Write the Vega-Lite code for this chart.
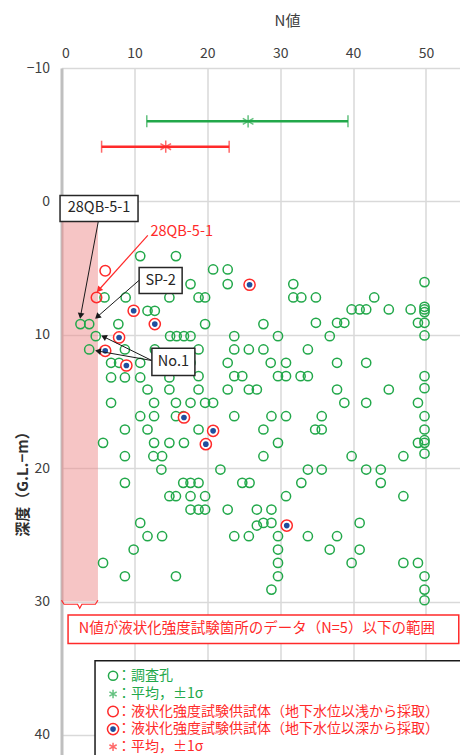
{
 "$schema": "https://vega.github.io/schema/vega-lite/v6.json",
 "width": 398, "height": 687,
 "autosize": "none",
 "padding": {"left": 61.5, "top": 68, "right": 0, "bottom": 0},
 "background": "white",
 "config": {"view": {"stroke": null}, "font": "Noto Sans CJK JP"},
 "datasets": {
  "g": [
   {"x":10.8,"y":4.1},{"x":15.7,"y":4.1},
   {"x":20.8,"y":5.1},{"x":22.8,"y":5.1},
   {"x":17.7,"y":6.2},{"x":22.8,"y":6.2},{"x":31.8,"y":6.2},{"x":49.8,"y":6.05},
   {"x":5.9,"y":7.2},{"x":8.8,"y":7.2},{"x":14.8,"y":7.2},{"x":18.8,"y":7.2},{"x":19.7,"y":7.2},{"x":31.8,"y":7.2},{"x":32.9,"y":7.2},{"x":34.9,"y":7.2},{"x":42.9,"y":7.2},
   {"x":11.8,"y":8.2},{"x":12.8,"y":8.2},{"x":39.8,"y":8.1},{"x":40.9,"y":8.1},{"x":41.8,"y":8.1},{"x":44.9,"y":8.1},{"x":47.9,"y":8.1},{"x":49.8,"y":7.9},{"x":49.8,"y":8.1},{"x":49.8,"y":8.3},
   {"x":2.6,"y":9.2},{"x":3.8,"y":9.2},{"x":7.8,"y":9.2},{"x":19.7,"y":9.2},{"x":27.7,"y":9.2},{"x":34.9,"y":9.1},{"x":37.8,"y":9.1},{"x":38.8,"y":9.1},{"x":48.9,"y":9.1},{"x":49.8,"y":9.1},
   {"x":4.7,"y":10.1},{"x":14.9,"y":10.1},{"x":15.8,"y":10.1},{"x":16.8,"y":10.1},{"x":17.7,"y":10.1},{"x":23.7,"y":10.1},{"x":29.7,"y":10.1},{"x":36.8,"y":10.1},{"x":49.8,"y":10.05},
   {"x":3.8,"y":11.1},{"x":8.7,"y":11.1},{"x":12.8,"y":11.1},{"x":18.8,"y":11.1},{"x":23.7,"y":11.1},{"x":25.7,"y":11.1},{"x":27.7,"y":11.1},{"x":33.8,"y":11.1},
   {"x":6.8,"y":12.1},{"x":7.9,"y":12.1},{"x":10.8,"y":12.1},{"x":13.8,"y":12.1},{"x":17.7,"y":12.1},{"x":22.8,"y":12.1},{"x":28.7,"y":12.1},{"x":30.8,"y":12.1},{"x":37.8,"y":12.1},{"x":41.8,"y":12.1},
   {"x":6.8,"y":13.2},{"x":8.7,"y":13.2},{"x":10.8,"y":13.2},{"x":14.8,"y":13.2},{"x":18.8,"y":13.1},{"x":23.7,"y":13.1},{"x":24.8,"y":13.1},{"x":29.7,"y":13.1},{"x":30.8,"y":13.1},{"x":32.8,"y":13.1},{"x":33.8,"y":13.1},{"x":49.8,"y":13.1},
   {"x":11.8,"y":14.1},{"x":14.8,"y":14.1},{"x":18.8,"y":14.1},{"x":22.8,"y":14.1},{"x":25.7,"y":14.1},{"x":26.8,"y":14.1},{"x":37.8,"y":14.1},{"x":44.9,"y":14.1},{"x":49.8,"y":14.0},
   {"x":6.8,"y":15.1},{"x":12.7,"y":15.1},{"x":15.7,"y":15.1},{"x":17.7,"y":15.1},{"x":19.7,"y":15.1},{"x":20.8,"y":15.1},{"x":38.8,"y":15.1},{"x":41.8,"y":15.1},{"x":48.9,"y":15.1},
   {"x":10.8,"y":16.1},{"x":12.7,"y":16.1},{"x":15.7,"y":16.1},{"x":16.7,"y":16.1},{"x":23.7,"y":16.1},{"x":28.8,"y":16.1},{"x":30.8,"y":16.1},{"x":35.7,"y":16.1},{"x":49.8,"y":16.1},
   {"x":8.7,"y":17.1},{"x":11.8,"y":17.1},{"x":18.8,"y":17.1},{"x":27.7,"y":17.1},{"x":34.8,"y":17.1},{"x":35.7,"y":17.1},{"x":49.8,"y":17.1},
   {"x":5.7,"y":18.1},{"x":12.7,"y":18.1},{"x":14.8,"y":18.1},{"x":16.8,"y":18.1},{"x":29.7,"y":18.1},{"x":48.9,"y":18.1},{"x":49.8,"y":17.9},{"x":49.8,"y":18.1},
   {"x":8.7,"y":19.1},{"x":12.6,"y":19.1},{"x":13.8,"y":19.1},{"x":27.7,"y":19.1},{"x":39.8,"y":19.1},{"x":46.9,"y":19.1},{"x":49.8,"y":18.9},
   {"x":13.7,"y":20.1},{"x":21.8,"y":20.1},{"x":33.8,"y":20.1},{"x":35.7,"y":20.1},{"x":41.8,"y":20.1},{"x":43.8,"y":20.1},
   {"x":8.7,"y":21.1},{"x":16.7,"y":21.1},{"x":17.7,"y":21.1},{"x":18.8,"y":21.1},{"x":24.8,"y":21.1},{"x":25.8,"y":21.1},{"x":32.9,"y":21.1},{"x":43.8,"y":21.1},
   {"x":14.8,"y":22.1},{"x":15.7,"y":22.1},{"x":17.7,"y":22.1},{"x":19.7,"y":22.1},{"x":30.8,"y":22.1},{"x":46.9,"y":22.1},
   {"x":17.7,"y":23.1},{"x":18.8,"y":23.1},{"x":19.7,"y":23.1},{"x":22.8,"y":23.1},{"x":26.8,"y":23.1},{"x":28.8,"y":23.1},
   {"x":10.8,"y":24.1},{"x":26.8,"y":24.3},{"x":27.7,"y":24.1},{"x":28.8,"y":24.1},{"x":40.9,"y":24.1},
   {"x":11.8,"y":25.1},{"x":13.8,"y":25.1},{"x":23.7,"y":25.1},{"x":25.7,"y":25.1},{"x":29.7,"y":25.1},{"x":33.8,"y":25.1},{"x":37.8,"y":25.1},
   {"x":9.9,"y":26.1},{"x":29.7,"y":26.1},{"x":36.8,"y":26.1},{"x":40.9,"y":26.1},
   {"x":5.7,"y":27.1},{"x":29.7,"y":27.1},{"x":39.8,"y":27.1},{"x":46.9,"y":27.1},{"x":48.9,"y":27.1},
   {"x":8.7,"y":28.1},{"x":15.7,"y":28.1},{"x":29.7,"y":28.1},{"x":49.8,"y":28.1},
   {"x":28.8,"y":29.1},{"x":49.8,"y":29.1},{"x":49.8,"y":29.9}
  ],
  "r": [{"x":6.0,"y":5.2},{"x":4.8,"y":7.2}],
  "b": [{"x":25.8,"y":6.25},{"x":9.9,"y":8.2},{"x":12.8,"y":9.2},{"x":7.9,"y":10.2},{"x":6.0,"y":11.2},{"x":8.9,"y":12.3},{"x":16.8,"y":16.2},{"x":20.8,"y":17.2},{"x":19.8,"y":18.2},{"x":30.9,"y":24.3}],
  "ebG": [{"x":11.7,"x2":39.3,"y":-6.0,"m":25.6}],
  "ebR": [{"x":5.5,"x2":23.0,"y":-4.1,"m":14.3}],
  "arrowsK": [
   {"x":5.05,"y":1.5,"x2":2.62,"y2":8.58},
   {"x":10.78,"y":5.85,"x2":4.91,"y2":8.65},
   {"x":12.4,"y":11.93,"x2":5.8,"y2":10.15},
   {"x":12.4,"y":11.93,"x2":5.01,"y2":11.22}
  ],
  "boxes": [
   {"x":-0.2,"x2":10.5,"y":-0.45,"y2":1.5,"cx":5.15,"cy":0.53,"label":"28QB-5-1"},
   {"x":10.65,"x2":16.55,"y":4.95,"y2":6.9,"cx":13.6,"cy":5.93,"label":"SP-2"},
   {"x":12.4,"x2":18.3,"y":11.0,"y2":13.05,"cx":15.35,"cy":12.03,"label":"No.1"}
  ]
 },
 "encoding": {
  "x": {"field":"x","type":"quantitative","scale":{"domain":[0,54.6],"nice":false,"zero":false},
   "axis":{"orient":"top","title":"N値","values":[0,10,20,30,40,50],"grid":true,"gridColor":"#d9d9d9","gridWidth":1.5,"domain":false,"ticks":false,"labelFontSize":14,"labelColor":"#404040","labelPadding":8,"labelFont":"Noto Sans CJK JP","titleFont":"Noto Sans CJK JP","titleFontSize":15,"titleFontWeight":"normal","titleColor":"#404040","titleX":225.5,"titleY":-48,"titleBaseline":"middle","titleAlign":"center"}},
  "y": {"field":"y","type":"quantitative","scale":{"domain":[-10,41.5],"nice":false,"zero":false,"reverse":true},
   "axis":{"title":"深度（G.L.−m）","values":[-10,0,10,20,30,40],"grid":true,"gridColor":"#d9d9d9","gridWidth":1.5,"domain":true,"domainColor":"#bfbfbf","domainWidth":3,"ticks":false,"labelFontSize":14,"labelColor":"#404040","labelPadding":12,"labelFont":"Noto Sans CJK JP","titleFont":"Noto Sans CJK JP","titleFontSize":15,"titleFontWeight":"bold","titleColor":"#303030","titleX":-39,"titleY":412,"titleAngle":270,"titleBaseline":"middle","titleAlign":"center"}}
 },
 "layer": [
  {"data":{"values":[{"x":0,"x2":5,"y":0,"y2":30}]},"mark":{"type":"rect","fill":"#ee8c8c","opacity":0.5},
   "encoding":{"x2":{"field":"x2"},"y2":{"field":"y2"}}},
  {"data":{"values":[{"x":0,"y":29.9,"o":1},{"x":0.35,"y":30.2,"o":2},{"x":2.2,"y":30.2,"o":3},{"x":2.5,"y":30.5,"o":4},{"x":2.8,"y":30.2,"o":5},{"x":4.65,"y":30.2,"o":6},{"x":5,"y":29.9,"o":7}]},
   "mark":{"type":"line","stroke":"#ff2a2a","strokeWidth":1.2},"encoding":{"order":{"field":"o"}}},
  {"data":{"name":"ebG"},"mark":{"type":"rule","stroke":"#22a84a","strokeWidth":2.5},"encoding":{"x2":{"field":"x2"}}},
  {"data":{"name":"ebR"},"mark":{"type":"rule","stroke":"#ff2a2a","strokeWidth":2.5},"encoding":{"x2":{"field":"x2"}}},
  {"data":{"name":"ebG"},"mark":{"type":"point","shape":"M0,-1L0,1","stroke":"#22a84a","strokeWidth":1.5,"size":144}},
  {"data":{"name":"ebG"},"mark":{"type":"point","shape":"M0,-1L0,1","stroke":"#22a84a","strokeWidth":1.5,"size":144},"encoding":{"x":{"field":"x2","type":"quantitative"}}},
  {"data":{"name":"ebR"},"mark":{"type":"point","shape":"M0,-1L0,1","stroke":"#ff2a2a","strokeWidth":1.5,"size":144}},
  {"data":{"name":"ebR"},"mark":{"type":"point","shape":"M0,-1L0,1","stroke":"#ff2a2a","strokeWidth":1.5,"size":144},"encoding":{"x":{"field":"x2","type":"quantitative"}}},
  {"data":{"name":"ebG"},"mark":{"type":"point","shape":"M0,-1L0,1M-0.87,-0.5L0.87,0.5M-0.87,0.5L0.87,-0.5","stroke":"#22a84a","strokeWidth":1.5,"size":150},"encoding":{"x":{"field":"m","type":"quantitative"}}},
  {"data":{"name":"ebR"},"mark":{"type":"point","shape":"M0,-1L0,1M-0.87,-0.5L0.87,0.5M-0.87,0.5L0.87,-0.5","stroke":"#ff2a2a","strokeWidth":1.5,"size":150},"encoding":{"x":{"field":"m","type":"quantitative"}}},
  {"data":{"name":"g"},"mark":{"type":"point","shape":"circle","filled":false,"stroke":"#22a84a","strokeWidth":1.5,"size":85,"opacity":1}},
  {"data":{"name":"r"},"mark":{"type":"point","shape":"circle","filled":false,"stroke":"#ff2a2a","strokeWidth":1.5,"size":110,"opacity":1}},
  {"data":{"name":"b"},"mark":{"type":"point","shape":"circle","filled":true,"fill":"white","stroke":"#ff2a2a","strokeWidth":1.5,"size":125,"opacity":1}},
  {"data":{"name":"b"},"mark":{"type":"point","shape":"circle","filled":true,"fill":"#1f4e9e","strokeWidth":0,"size":32,"opacity":1}},
  {"data":{"name":"arrowsK"},"mark":{"type":"rule","stroke":"#1a1a1a","strokeWidth":1},"encoding":{"x2":{"field":"x2"},"y2":{"field":"y2"}}},
  {"data":{"values":[{"x":11.84,"y":2.55,"x2":5.11,"y2":6.64}]},"mark":{"type":"rule","stroke":"#ff2a2a","strokeWidth":1.2},"encoding":{"x2":{"field":"x2"},"y2":{"field":"y2"}}},
  {"data":{"values":[{"x":2.62,"y":8.58}]},"mark":{"type":"point","shape":"triangle-up","filled":true,"fill":"#1a1a1a","size":45,"angle":190.6,"opacity":1}},
  {"data":{"values":[{"x":4.91,"y":8.65}]},"mark":{"type":"point","shape":"triangle-up","filled":true,"fill":"#1a1a1a","size":45,"angle":229,"opacity":1}},
  {"data":{"values":[{"x":5.8,"y":10.15}]},"mark":{"type":"point","shape":"triangle-up","filled":true,"fill":"#1a1a1a","size":45,"angle":296,"opacity":1}},
  {"data":{"values":[{"x":5.01,"y":11.22}]},"mark":{"type":"point","shape":"triangle-up","filled":true,"fill":"#1a1a1a","size":45,"angle":280,"opacity":1}},
  {"data":{"values":[{"x":5.11,"y":6.64}]},"mark":{"type":"point","shape":"triangle-up","filled":true,"fill":"#ff2a2a","size":45,"angle":222,"opacity":1}},
  {"data":{"name":"boxes"},"mark":{"type":"rect","fill":"white","stroke":"#262626","strokeWidth":1.5},"encoding":{"x2":{"field":"x2"},"y2":{"field":"y2"}}},
  {"data":{"name":"boxes"},"mark":{"type":"text","fontSize":14.5,"color":"#262626","align":"center","baseline":"middle","font":"Noto Sans CJK JP"},
   "encoding":{"x":{"field":"cx","type":"quantitative"},"y":{"field":"cy","type":"quantitative"},"text":{"field":"label"}}},
  {"data":{"values":[{"x":12.2,"y":2.3,"label":"28QB-5-1"}]},"mark":{"type":"text","fontSize":14.5,"color":"#ff2a2a","align":"left","baseline":"middle","font":"Noto Sans CJK JP"},"encoding":{"text":{"field":"label"}}},
  {"data":{"values":[{"x":0.9,"x2":54.5,"y":31.0,"y2":33.15}]},"mark":{"type":"rect","fill":"white","stroke":"#ff2a2a","strokeWidth":1.5},"encoding":{"x2":{"field":"x2"},"y2":{"field":"y2"}}},
  {"data":{"values":[{"x":26.8,"y":32.05,"label":"N値が液状化強度試験箇所のデータ（N=5）以下の範囲"}]},"mark":{"type":"text","fontSize":14.5,"color":"#ff2a2a","align":"center","baseline":"middle","font":"Noto Sans CJK JP"},"encoding":{"text":{"field":"label"}}},
  {"data":{"values":[{"x":4.6,"x2":56,"y":34.43,"y2":43}]},"mark":{"type":"rect","fill":"white","stroke":"#1a1a1a","strokeWidth":1.5,"clip":false},"encoding":{"x2":{"field":"x2"},"y2":{"field":"y2"}}},
  {"data":{"values":[{"x":7.07,"y":35.56}]},"mark":{"type":"point","shape":"circle","filled":false,"stroke":"#22a84a","strokeWidth":1.5,"size":85,"opacity":1}},
  {"data":{"values":[{"x":7.07,"y":36.93}]},"mark":{"type":"point","shape":"M0,-1L0,1M-0.87,-0.5L0.87,0.5M-0.87,0.5L0.87,-0.5","stroke":"#22a84a","strokeWidth":1.5,"size":70}},
  {"data":{"values":[{"x":7.07,"y":38.24}]},"mark":{"type":"point","shape":"circle","filled":false,"stroke":"#ff2a2a","strokeWidth":1.5,"size":110,"opacity":1}},
  {"data":{"values":[{"x":7.07,"y":39.56}]},"mark":{"type":"point","shape":"circle","filled":true,"fill":"white","stroke":"#ff2a2a","strokeWidth":1.5,"size":125,"opacity":1}},
  {"data":{"values":[{"x":7.07,"y":39.56}]},"mark":{"type":"point","shape":"circle","filled":true,"fill":"#1f4e9e","strokeWidth":0,"size":32,"opacity":1}},
  {"data":{"values":[{"x":7.07,"y":40.89}]},"mark":{"type":"point","shape":"M0,-1L0,1M-0.87,-0.5L0.87,0.5M-0.87,0.5L0.87,-0.5","stroke":"#ff2a2a","strokeWidth":1.5,"size":70}},
  {"data":{"values":[{"x":7.62,"y":35.56,"label":"：調査孔"},{"x":7.62,"y":36.93,"label":"：平均，±1σ"}]},
   "mark":{"type":"text","fontSize":14,"color":"#22a84a","align":"left","baseline":"middle","font":"Noto Sans CJK JP"},"encoding":{"text":{"field":"label"}}},
  {"data":{"values":[{"x":7.62,"y":38.24,"label":"：液状化強度試験供試体（地下水位以浅から採取）"},{"x":7.62,"y":39.56,"label":"：液状化強度試験供試体（地下水位以深から採取）"},{"x":7.62,"y":40.89,"label":"：平均，±1σ"}]},
   "mark":{"type":"text","fontSize":14,"color":"#ff2a2a","align":"left","baseline":"middle","font":"Noto Sans CJK JP"},"encoding":{"text":{"field":"label"}}}
 ]
}
